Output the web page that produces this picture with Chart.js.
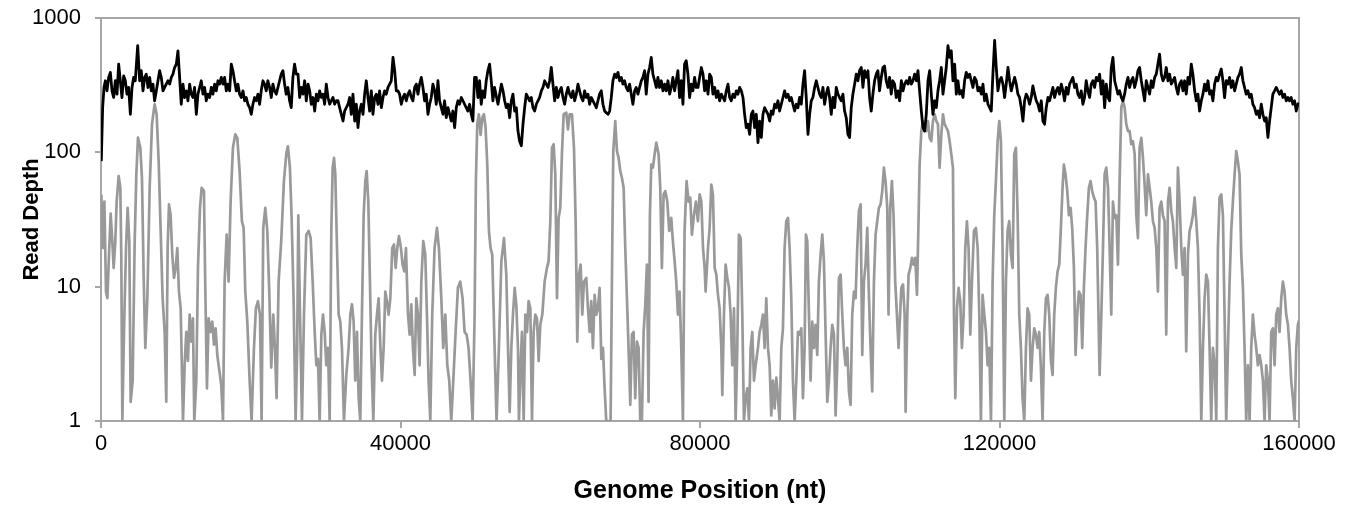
<!DOCTYPE html>
<html>
<head>
<meta charset="utf-8">
<script src="https://cdn.jsdelivr.net/npm/chart.js@4.4.1/dist/chart.umd.min.js"></script>
<style>
  html, body { margin: 0; padding: 0; background: #fff; }
  #wrap { width: 1361px; height: 508px; }
</style>
</head>
<body>
<div id="wrap"><canvas id="chart" width="1361" height="508"></canvas></div>
<script>
// genome positions are in kb, depths are reads per position (zero depth shown as 1)
const xTicks = [0, 40000, 80000, 120000, 160000];
const yTicks = [1, 10, 100, 1000];

// grey trace (low coverage sample)
const lowKb = [
  0.04,0.27,0.45,0.67,0.85,1.07,1.29,1.51,1.69,1.91,
  2.09,2.36,2.58,2.71,2.85,3.07,3.34,3.56,3.78,3.96,
  4.23,4.49,4.72,4.94,5.25,5.47,5.70,5.92,6.19,6.50,
  6.81,7.16,7.43,7.70,7.97,8.23,8.50,8.72,8.90,9.08,
  9.30,9.52,9.75,9.97,10.19,10.41,10.64,10.95,11.17,11.39,
  11.61,11.84,12.06,12.28,12.46,12.73,12.95,13.22,13.44,13.75,
  13.93,14.15,14.37,14.64,14.86,15.09,15.31,15.53,15.75,16.06,
  16.29,16.51,16.78,17.04,17.31,17.62,17.93,18.20,18.51,18.82,
  19.05,19.27,19.54,19.85,20.11,20.43,20.69,20.96,21.23,21.45,
  21.67,21.94,22.21,22.47,22.74,23.01,23.23,23.45,23.72,24.07,
  24.43,24.74,24.96,25.23,25.45,25.72,25.99,26.2,26.35,26.58,
  26.84,27.11,27.42,27.73,28.0,28.27,28.54,28.76,28.98,29.20,
  29.43,29.65,29.87,30.09,30.32,30.54,30.76,30.94,31.12,31.29,
  31.52,31.74,31.96,32.18,32.45,32.76,33.07,33.30,33.52,33.74,
  33.96,34.19,34.41,34.63,34.85,35.08,35.30,35.48,35.70,35.92,
  36.14,36.37,36.63,36.86,37.08,37.30,37.52,37.75,37.97,38.19,
  38.41,38.64,38.90,39.13,39.35,39.57,39.79,40.06,40.28,40.51,
  40.73,41.0,41.22,41.44,41.66,41.89,42.11,42.33,42.55,42.78,
  43.04,43.31,43.53,43.75,43.98,44.24,44.55,44.87,45.13,45.45,
  45.71,45.98,46.25,46.51,46.78,47.05,47.36,47.67,47.98,48.29,
  48.56,48.83,49.09,49.36,49.63,49.90,50.07,50.25,50.47,50.70,
  50.92,51.14,51.36,51.59,51.81,52.03,52.25,52.57,52.83,53.14,
  53.47,53.82,54.13,54.36,54.58,54.80,55.02,55.25,55.47,55.69,
  55.82,56.05,56.22,56.45,56.67,56.89,57.11,57.34,57.56,57.78,
  58.0,58.23,58.45,58.67,58.94,59.25,59.56,59.78,60.01,60.23,
  60.45,60.67,60.90,61.12,61.34,61.56,61.79,62.14,62.37,62.59,
  62.90,63.17,63.39,63.61,63.83,64.06,64.28,64.50,64.81,65.04,
  65.26,65.48,65.70,65.93,66.15,66.37,66.59,66.82,67.04,67.26,
  67.48,68.06,68.28,68.42,68.68,68.91,69.13,69.35,69.57,69.80,
  70.02,70.24,70.46,70.69,70.91,71.13,71.35,71.58,71.80,72.02,
  72.24,72.47,72.69,72.91,73.13,73.31,73.49,73.71,73.94,74.16,
  74.47,74.69,74.91,75.14,75.36,75.63,75.89,76.16,76.38,76.61,
  76.83,77.05,77.27,77.50,77.72,77.94,78.21,78.47,78.70,78.92,
  79.19,79.45,79.72,
  79.95,80.18,80.40,80.62,80.75,81.07,81.29,81.51,81.73,81.96,
  82.18,82.40,82.62,82.85,82.98,83.20,83.42,83.65,83.87,84.09,
  84.31,84.54,84.76,84.98,85.20,85.43,85.65,85.87,86.09,86.32,
  86.54,86.76,86.98,87.21,87.43,87.74,87.96,88.19,88.41,88.63,
  88.85,89.08,89.30,89.52,89.74,89.97,90.19,90.41,90.63,90.86,
  91.08,91.30,91.52,91.75,91.97,92.19,92.41,92.64,92.86,93.08,
  93.30,93.53,93.75,93.97,94.15,94.33,94.55,94.77,94.99,95.22,
  95.44,95.66,95.88,96.11,96.33,96.55,96.77,97.0,97.22,97.44,
  97.66,97.89,98.11,98.33,98.55,98.78,99.0,99.22,99.44,99.67,
  99.89,100.11,100.33,100.56,100.78,101.0,101.22,101.45,101.67,101.89,
  102.11,102.34,102.56,102.78,103.0,103.23,103.45,103.67,103.89,104.12,
  104.34,104.56,104.78,105.01,105.18,105.41,105.63,105.85,106.07,106.30,
  106.52,
  106.89,107.11,107.33,107.46,107.69,107.86,108.09,108.31,108.53,108.75,
  108.98,109.20,109.33,109.56,109.78,110.0,110.22,110.45,110.67,110.89,
  111.11,111.34,111.56,111.78,112.0,112.23,112.45,112.67,112.89,113.12,
  113.34,113.56,113.78,113.92,114.10,114.32,114.54,114.76,114.98,115.21,
  115.43,115.65,115.87,116.10,116.32,116.59,116.85,117.08,117.30,117.52,
  117.74,117.97,118.19,118.41,118.63,118.86,119.08,119.30,119.52,119.75,
  119.97,120.19,120.41,120.64,120.86,121.08,121.30,121.53,121.75,121.97,
  122.19,122.42,122.64,122.86,123.08,123.31,123.53,123.75,123.97,124.20,
  124.42,124.64,124.86,125.09,125.31,125.53,125.75,125.98,126.20,126.42,
  126.64,126.87,127.09,127.31,127.53,127.76,127.98,128.20,128.42,128.60,
  128.82,129.05,129.27,129.49,129.71,129.94,130.16,130.38,130.60,130.83,
  131.05,131.27,131.49,131.72,131.94,132.16,132.38,132.61,132.83,133.05,
  133.37,133.60,133.82,134.04,134.26,134.49,134.71,134.93,135.15,135.38,
  135.60,135.82,136.04,136.27,136.49,136.71,136.93,137.16,137.38,137.60,
  137.82,138.05,138.27,138.49,138.71,138.94,139.16,139.38,139.60,139.83,
  140.05,140.27,140.49,140.72,140.94,141.16,141.38,141.61,141.83,142.05,
  142.27,142.50,142.72,142.94,143.16,143.39,143.61,143.83,144.05,144.28,
  144.50,144.72,144.94,145.17,145.39,145.61,145.83,146.06,146.28,146.50,
  146.72,146.95,147.17,147.39,147.61,147.84,148.06,148.28,148.50,148.73,
  148.95,149.17,149.39,149.62,149.84,150.06,150.28,150.51,150.73,150.95,
  151.17,151.40,151.62,151.84,152.06,152.29,152.51,152.73,152.95,153.18,
  153.40,153.62,153.84,154.07,154.29,154.51,154.73,154.96,155.18,155.40,
  155.62,155.85,156.07,156.29,156.51,156.74,156.96,157.18,157.40,157.63,
  157.85,158.07,158.29,158.52,158.74,158.96,159.18,159.41,159.63,159.85,
  160
];
const lowDepth = [
  48.6,19.4,43,9.2,8.2,17.3,35,21.8,13.8,21.8,
  43,66.6,54.5,17.3,1,4.6,19.4,38.6,21.8,1.39,
  2.0,20.6,68.5,128.6,108,64.7,11.6,3.5,8.2,54.5,
  162,228,192,86,26,8.2,4.6,1.39,19.4,41,
  34,17.3,11.6,13.8,19.4,9.2,6.9,1,2.6,4.6,
  2.8,6.2,3.9,5.8,1,2,13.8,38.6,54.5,51.5,
  9.8,1.75,5.8,4.6,5.5,3.7,4.9,3.1,2.5,1.86,
  1,10.9,24.4,10.9,43,108,136,128,72.6,30.7,
  27.4,9.2,5.5,2,1,3.5,6.9,7.8,6.2,1,
  27.4,38.6,26,9.2,2.5,6.2,3.5,1.48,10.9,21.8,
  61,97,111,77,34,8.2,1,3.5,34,6.2,
  1,6.2,24.4,26,23,10.9,4.6,2.6,2.9,1,
  4.4,6.2,4.6,2.6,3.5,1,26,77,91,68.5,
  19.4,6.2,5.5,3.5,1,2.2,3.5,6.2,7.4,5.5,
  2.0,4.6,1.48,1,6.2,34,61,72.6,43,10.9,
  2.6,1,4.4,6.2,8.2,3.7,2,3.5,9.2,7.8,
  6.2,8.2,19.4,20.6,13.8,19.4,23.8,19.4,14.6,13,
  19.4,6.2,4.4,7.4,3.5,2.2,8.2,6.2,2.6,10.9,
  21.8,17.3,6.2,2,1,6.2,19.4,27.4,19.4,8.2,
  3.5,6.2,2.6,2,1,2,4.6,9.8,10.9,8.2,
  4.6,4.4,3.5,2,1,6.2,61,162,192,135,
  181,192,153,81,26,19.4,17.3,3.5,1,3.5,
  15.5,23,12.3,3.5,1.17,3.5,6.2,9.8,7.3,3.5,
  1,2.6,4.6,1,6.2,4.6,7.8,6.9,1,4.6,
  6.2,5.8,2.8,5.2,6.2,10.9,13.8,15.5,30.7,108,
  115,68.5,8.2,32.5,38.6,97,192,197,148,192,
  192,108,30.7,3.9,12.3,14.6,6.2,10.9,11.6,6.9,
  4.6,7.8,3.5,8.7,6.2,6.9,9.8,2.9,3.5,1.75,
  1,1,19.4,102,171,102,91,72.6,64.7,54.5,
  19.4,8.2,3.5,1.32,4.4,4.6,1.48,3.9,3.5,1,
  1,4.6,7.3,14.6,1.39,34,81,77,97,118,
  97,54.5,13.8,48.6,51.5,43,26,32.5,21.8,15.5,
  10.9,6.2,9.2,3.5,1,26,61,43,46,24.4,
  34,43,30.7,
  48.6,43,19.4,13.8,9.2,19.4,27.4,57.6,48.6,13.8,
  12.3,8.7,6.9,3.5,1.56,6.2,14.6,11.6,9.8,6.2,
  2.6,6.9,1,3.5,24.4,23,6.2,1,1.48,1.75,
  1,3.5,4.6,2,2.6,3.5,4.6,5.2,6.2,3.5,
  8.2,3.5,2.6,1.1,2,1.24,2.1,1.48,1,3.5,
  4.9,19.4,30.7,32.5,19.4,8.2,2,1,2,4.6,
  4.4,4.9,1.48,3.5,24.4,21.8,6.2,2,5.5,3.5,
  5.2,3.1,10.9,17.3,24.4,15.5,4.6,1.39,2,3.5,
  5.2,4.4,1.1,2.6,11.6,12.3,6.2,3.5,2.6,3.5,
  1.66,1.32,6.2,9.2,8.2,19.4,36.5,41,3.1,10.9,
  14.6,27.4,8.7,3.5,1.66,10.9,24.4,30.7,38.6,41,
  51.5,77,61,38.6,6.2,38.6,61,34,10.9,6.2,
  3.5,
  9.8,10.4,6.2,1.17,6.2,12.3,13.8,16.4,14.6,16.4,
  8.7,34,81,144,171,153,144,171,128,121,
  171,192,171,162,77,136,192,162,153,144,
  121,97,77,6.2,1.48,6.9,9.8,7.8,3.5,6.2,
  19.4,30.7,19.4,4.4,10.9,26,27.4,19.4,6.2,1,
  8.7,6.2,4.6,2.6,3.5,1,10.9,34,61,121,
  171,121,19.4,1,10.9,26,30.7,17.3,13.8,97,
  108,34,6.2,3.5,1.48,1,3.5,6.9,6.2,2,
  3.5,4.9,4.4,3.5,4.6,2.5,1,4.6,8.2,8.7,
  6.2,2.8,2.2,6.2,9.8,13,14.6,27.4,54.5,81,
  68.5,51.5,34,38.6,27.4,13.8,3.1,6.2,9.2,8.7,
  3.5,9.8,19.4,34,54.5,61,51.5,46,43,19.4,
  2.2,6.2,19.4,68.5,77,54.5,19.4,6.2,43,32.5,
  34,14.6,61,216,241,216,162,144,144,115,
  121,97,34,23,108,128,91,57.6,34,68.5,
  54.5,43,30.7,27.4,19.4,9.2,38.6,43,34,30.7,
  4.4,43,54.5,36.5,30.7,19.4,13.8,77,43,19.4,
  12.3,19.4,3.3,17.3,26,29,34,46,30.7,19.4,
  6.2,1,3.5,8.2,12.3,10.9,3.5,1,3.5,2.6,
  1,19.4,46,48.6,34,6.2,1,3.5,10.9,26,
  43,68.5,102,86,68.5,17.3,9.8,3.5,1,2.6,
  1,3.5,6.2,4.4,3.5,2.6,3.1,2.6,2,1,
  2.6,2,1,4.6,4.9,2.6,6.2,6.9,4.6,8.2,
  10.9,9.2,6.2,5.2,3.5,2,1.48,1,3.5,5.2,
  5.6
];

// black trace (high coverage sample)
const highKb = [
  0.04,0.22,0.40,0.58,0.80,1.02,1.25,1.47,1.69,1.91,
  2.14,2.36,2.58,2.80,3.03,3.25,3.47,3.69,3.92,4.14,
  4.36,4.58,4.90,5.16,5.38,5.61,5.83,6.05,6.27,6.50,
  6.72,6.94,7.16,7.39,7.61,7.83,8.05,8.28,8.50,8.72,
  8.94,9.17,9.39,9.61,9.83,10.06,10.28,10.50,10.72,10.95,
  11.17,11.39,11.61,11.84,12.06,12.28,12.50,12.73,12.95,13.17,
  13.39,13.62,13.84,14.06,14.28,14.51,14.73,14.95,15.17,15.40,
  15.62,15.84,16.06,16.29,16.51,16.73,16.95,17.18,17.40,17.62,
  17.84,18.07,18.29,18.51,18.73,18.96,19.18,19.40,19.62,19.85,
  20.07,20.29,20.51,20.74,20.96,21.18,21.40,21.63,21.85,22.07,
  22.29,22.52,22.74,22.96,23.18,23.41,23.63,23.85,24.07,24.30,
  24.52,24.74,24.96,25.19,25.41,25.63,25.85,26.08,
  26.31,26.53,26.75,26.98,27.20,27.42,27.65,27.87,28.09,28.31,
  28.54,28.76,28.98,29.20,29.43,29.65,29.87,30.09,30.32,30.54,
  30.76,30.98,31.21,31.43,31.65,31.87,32.10,32.32,32.54,32.76,
  32.99,33.21,33.43,33.65,33.88,34.10,34.32,34.54,34.77,34.99,
  35.21,35.43,35.66,35.88,36.10,36.32,36.55,36.77,36.99,37.21,
  37.44,37.66,37.88,38.10,38.33,38.55,38.77,39.0,39.22,39.44,
  39.66,39.88,40.11,40.33,40.55,40.77,41.0,41.22,41.44,41.66,
  41.89,42.11,42.33,42.55,42.78,43.0,43.22,43.44,43.67,43.89,
  44.11,44.33,44.56,44.78,45.0,45.22,45.45,45.67,45.89,46.11,
  46.34,46.56,46.78,47.0,47.23,47.45,47.67,47.89,48.12,48.34,
  48.56,48.78,49.0,49.23,49.45,49.67,49.89,50.12,50.34,50.56,
  50.78,51.01,51.23,51.45,51.67,51.90,52.12,52.34,52.56,
  53.02,53.24,53.47,53.69,53.91,54.13,54.36,54.58,54.80,55.02,
  55.25,55.47,55.69,55.91,56.14,56.36,56.58,56.80,57.03,57.25,
  57.47,57.69,57.92,58.14,58.36,58.58,58.81,59.03,59.25,59.47,
  59.70,59.92,60.14,60.36,60.59,60.81,61.03,61.25,61.48,61.70,
  61.92,62.14,62.37,62.59,62.81,63.03,63.26,63.48,63.70,63.92,
  64.15,64.37,64.59,64.81,65.04,65.26,65.48,65.70,65.93,66.15,
  66.37,66.59,66.82,67.04,67.26,67.48,67.71,67.93,68.15,68.37,
  68.60,68.82,69.04,69.26,69.49,69.71,69.93,70.15,70.38,70.60,
  70.82,71.04,71.27,71.49,71.71,71.93,72.16,72.38,72.60,72.82,
  73.05,73.27,73.49,73.71,73.94,74.16,74.38,74.60,74.83,75.05,
  75.27,75.49,75.72,75.94,76.16,76.38,76.61,76.83,77.05,77.27,
  77.50,77.72,77.94,78.16,78.39,78.61,78.83,79.05,79.28,79.50,
  79.73,79.95,80.18,80.40,80.62,80.84,81.07,81.29,81.51,81.73,
  81.96,82.18,82.40,82.62,82.85,83.07,83.29,83.51,83.74,83.96,
  84.18,84.40,84.63,84.85,85.07,85.29,85.52,85.74,85.96,86.18,
  86.41,86.63,86.85,87.07,87.30,87.52,87.74,87.96,88.19,88.41,
  88.63,88.85,89.08,89.30,89.52,89.74,89.97,90.19,90.41,90.63,
  90.86,91.08,91.30,91.52,91.75,91.97,92.19,92.41,92.64,92.86,
  93.08,93.30,93.53,93.75,93.97,94.19,94.42,94.64,94.86,95.08,
  95.31,95.53,95.75,95.97,96.20,96.42,96.64,96.86,97.09,97.31,
  97.53,97.75,97.98,98.20,98.42,98.64,98.87,99.09,99.31,99.53,
  99.76,99.98,100.20,100.42,100.65,100.87,101.09,101.31,101.54,101.76,
  101.98,102.20,102.43,102.65,102.87,103.09,103.32,103.54,103.76,103.98,
  104.21,104.43,104.65,104.87,105.10,105.32,105.54,105.76,105.99,106.21,
  106.44,106.66,106.89,107.11,107.33,107.55,107.78,108.0,108.22,108.44,
  108.67,108.89,109.11,109.33,109.56,109.78,110.0,110.22,110.45,110.67,
  110.89,111.11,111.34,111.56,111.78,112.0,112.23,112.45,112.67,112.89,
  113.12,113.34,113.56,113.78,114.01,114.23,114.45,114.67,114.90,115.12,
  115.34,115.56,115.79,116.01,116.23,116.45,116.67,116.90,117.12,117.34,
  117.57,117.79,118.01,118.23,118.46,118.68,118.90,119.12,119.35,119.57,
  119.79,120.01,120.24,120.46,120.68,120.90,121.13,121.35,121.57,121.79,
  122.02,122.24,122.46,122.68,122.91,123.13,123.35,123.57,123.80,124.02,
  124.24,124.46,124.69,124.91,125.13,125.35,125.58,125.80,126.02,126.24,
  126.47,126.69,126.91,127.13,127.36,127.58,127.80,128.02,128.25,128.47,
  128.69,128.91,129.14,129.36,129.58,129.80,130.03,130.25,130.47,130.69,
  130.92,131.14,131.36,131.58,131.81,132.03,132.25,132.47,132.70,132.92,
  133.15,133.37,133.60,133.82,134.04,134.26,134.49,134.71,134.93,135.15,
  135.38,135.60,135.82,136.04,136.27,136.49,136.71,136.93,137.16,137.38,
  137.60,137.82,138.05,138.27,138.49,138.71,138.94,139.16,139.38,139.60,
  139.83,140.05,140.27,140.49,140.72,140.94,141.16,141.38,141.61,141.83,
  142.05,142.27,142.50,142.72,142.94,143.16,143.39,143.61,143.83,144.05,
  144.28,144.50,144.72,144.94,145.17,145.39,145.61,145.83,146.06,146.28,
  146.50,146.72,146.95,147.17,147.39,147.61,147.84,148.06,148.28,148.50,
  148.73,148.95,149.17,149.39,149.62,149.84,150.06,150.28,150.51,150.73,
  150.95,151.17,151.40,151.62,151.84,152.06,152.29,152.51,152.73,152.95,
  153.18,153.40,153.62,153.84,154.07,154.29,154.51,154.73,154.96,155.18,
  155.40,155.62,155.85,156.07,156.29,156.51,156.74,156.96,157.18,157.40,
  157.63,157.85,158.07,158.29,158.52,158.74,158.96,159.18,159.41,159.63,
  159.85,160
];
const highDepth = [
  86,215,304,341,287,361,394,287,256,341,
  271,454,341,256,371,341,271,304,192,304,
  361,341,622,341,405,287,361,382,304,361,
  287,322,242,287,341,405,361,287,304,322,
  341,322,361,382,428,454,570,361,228,322,
  256,287,242,322,271,256,304,192,271,304,
  341,271,304,242,271,256,304,271,322,287,
  341,322,361,322,361,287,322,287,454,405,
  341,287,322,271,256,287,242,256,228,215,
  192,228,256,242,271,228,287,341,322,287,
  341,304,256,322,287,271,304,341,382,405,
  322,271,304,242,215,361,454,382,
  382,256,304,271,341,242,322,287,228,256,
  203,271,242,287,256,271,228,322,256,228,
  242,256,228,242,242,215,192,171,203,215,
  228,256,192,271,171,228,153,203,228,192,
  271,341,256,203,287,192,256,271,228,287,
  215,256,287,271,304,322,341,509,405,287,
  287,271,228,256,271,242,271,287,256,242,
  304,322,271,322,361,304,242,271,192,228,
  256,322,287,228,341,242,215,192,242,181,
  215,192,171,203,153,215,242,228,256,242,
  228,215,203,228,192,171,361,361,256,341,
  228,287,256,341,405,454,341,242,304,
  228,271,322,287,242,215,228,181,242,271,
  203,215,144,121,112,162,215,271,256,242,
  256,215,203,228,242,256,287,304,341,322,
  304,341,428,322,242,304,256,287,304,256,
  228,271,304,271,256,287,242,271,322,287,
  256,242,287,256,271,228,256,242,228,215,
  242,271,287,228,203,197,192,203,256,341,
  382,361,394,341,361,322,341,304,287,322,
  271,228,287,304,271,304,341,361,405,271,
  382,428,509,382,341,304,361,304,341,287,
  322,287,341,271,304,361,287,341,405,256,
  341,228,454,481,382,256,322,287,361,304,
  304,361,428,382,287,341,271,382,361,271,
  304,256,287,242,271,256,242,287,322,256,
  242,271,256,287,271,304,287,256,192,153,
  162,136,192,203,153,192,118,171,129,192,
  215,203,192,171,203,192,228,215,242,203,
  228,256,287,256,271,242,256,228,203,228,
  215,256,228,322,405,256,136,192,242,256,
  304,341,304,271,256,304,228,271,304,256,
  192,256,215,304,271,256,242,271,203,181,
  136,129,215,271,322,382,341,405,428,304,
  405,361,405,256,203,271,341,382,405,287,
  361,428,440,341,304,361,271,341,322,256,
  287,242,341,287,322,341,322,361,322,341,
  382,341,405,287,203,153,144,192,341,405,
  271,192,242,215,287,341,428,271,341,428,
  622,509,570,341,454,271,341,271,287,256,
  341,394,361,382,341,304,361,341,287,304,
  271,322,242,271,228,215,203,382,680,428,
  287,341,361,322,256,322,428,341,287,322,
  361,322,271,256,215,171,242,271,256,228,
  256,312,271,242,228,203,242,171,162,215,
  256,242,271,304,256,287,304,271,322,287,
  242,304,271,322,341,361,304,322,271,256,
  287,228,256,341,287,256,322,341,304,361,
  341,382,271,341,215,322,256,242,428,509,
  341,304,271,287,256,242,271,322,361,304,
  341,361,304,341,405,428,341,287,242,341,
  304,271,341,304,361,382,454,539,382,341,
  361,428,341,382,322,341,361,304,271,322,
  341,287,341,271,361,322,454,382,287,242,
  271,203,242,271,322,287,341,271,287,242,
  322,361,341,382,417,341,256,341,322,361,
  304,341,287,322,361,382,428,341,304,271,
  287,256,271,228,215,192,203,181,228,192,
  171,181,129,171,215,271,287,304,287,271,
  287,256,271,242,256,242,256,228,242,203,
  228,233
];

[[lowKb, lowDepth], [highKb, highDepth]].forEach(([a, b]) => {
  if (a.length !== b.length) throw new Error('length mismatch ' + a.length + ' vs ' + b.length);
});

const toPoints = (kb, depth) => kb.map((k, i) => ({ x: Math.round(k * 1000), y: depth[i] }));

const fontFamily = "'Liberation Sans', Arial, sans-serif";
const axisGray = '#a6a6a6';

// top and right edges of the plot frame
const frame = {
  id: 'frame',
  beforeDatasetsDraw(chart) {
    const { ctx, chartArea: a } = chart;
    ctx.save();
    ctx.strokeStyle = axisGray;
    ctx.lineWidth = 2;
    ctx.beginPath();
    ctx.moveTo(a.left, a.top);
    ctx.lineTo(a.right, a.top);
    ctx.lineTo(a.right, a.bottom);
    ctx.stroke();
    ctx.restore();
  }
};

new Chart(document.getElementById('chart'), {
  type: 'line',
  data: {
    datasets: [
      {
        label: 'high',
        data: toPoints(highKb, highDepth),
        borderColor: '#000000',
        borderWidth: 2.8,
        pointRadius: 0,
        tension: 0,
        borderJoinStyle: 'round'
      },
      {
        label: 'low',
        data: toPoints(lowKb, lowDepth),
        borderColor: '#999999',
        borderWidth: 2.7,
        pointRadius: 0,
        tension: 0,
        borderJoinStyle: 'round'
      }
    ]
  },
  options: {
    responsive: false,
    animation: false,
    devicePixelRatio: 1,
    layout: { padding: { top: 18, right: 62, left: 0, bottom: 0 } },
    plugins: {
      legend: { display: false },
      tooltip: { enabled: false }
    },
    scales: {
      x: {
        type: 'linear',
        min: 0,
        max: 160000,
        afterBuildTicks: s => { s.ticks = xTicks.map(v => ({ value: v })); },
        afterFit: s => { s.height = 87; },
        ticks: {
          autoSkip: false,
          maxRotation: 0,
          padding: 3,
          color: '#000',
          font: { family: fontFamily, size: 22 },
          callback: v => String(v)
        },
        grid: { drawOnChartArea: false, drawTicks: true, tickLength: 7, color: axisGray, lineWidth: 2 },
        border: { color: axisGray, width: 2 },
        title: {
          display: true,
          text: 'Genome Position (nt)',
          color: '#000',
          font: { family: fontFamily, size: 25, weight: 'bold', lineHeight: 1.2 },
          padding: { top: 0, bottom: 2 }
        }
      },
      y: {
        type: 'logarithmic',
        min: 1,
        max: 1000,
        afterBuildTicks: s => { s.ticks = yTicks.map(v => ({ value: v })); },
        afterFit: s => { s.width = 101; s.paddingTop = 0; s.paddingBottom = 0; },
        ticks: {
          autoSkip: false,
          padding: 14,
          color: '#000',
          font: { family: fontFamily, size: 22 },
          callback: v => String(v)
        },
        grid: { drawOnChartArea: false, drawTicks: true, tickLength: 6, color: axisGray, lineWidth: 2 },
        border: { color: axisGray, width: 2 },
        title: {
          display: true,
          text: 'Read Depth',
          color: '#000',
          font: { family: fontFamily, size: 22, weight: 'bold', lineHeight: 1.2 },
          padding: { top: 19, bottom: 0 }
        }
      }
    }
  },
  plugins: [frame]
});
</script>
</body>
</html>
